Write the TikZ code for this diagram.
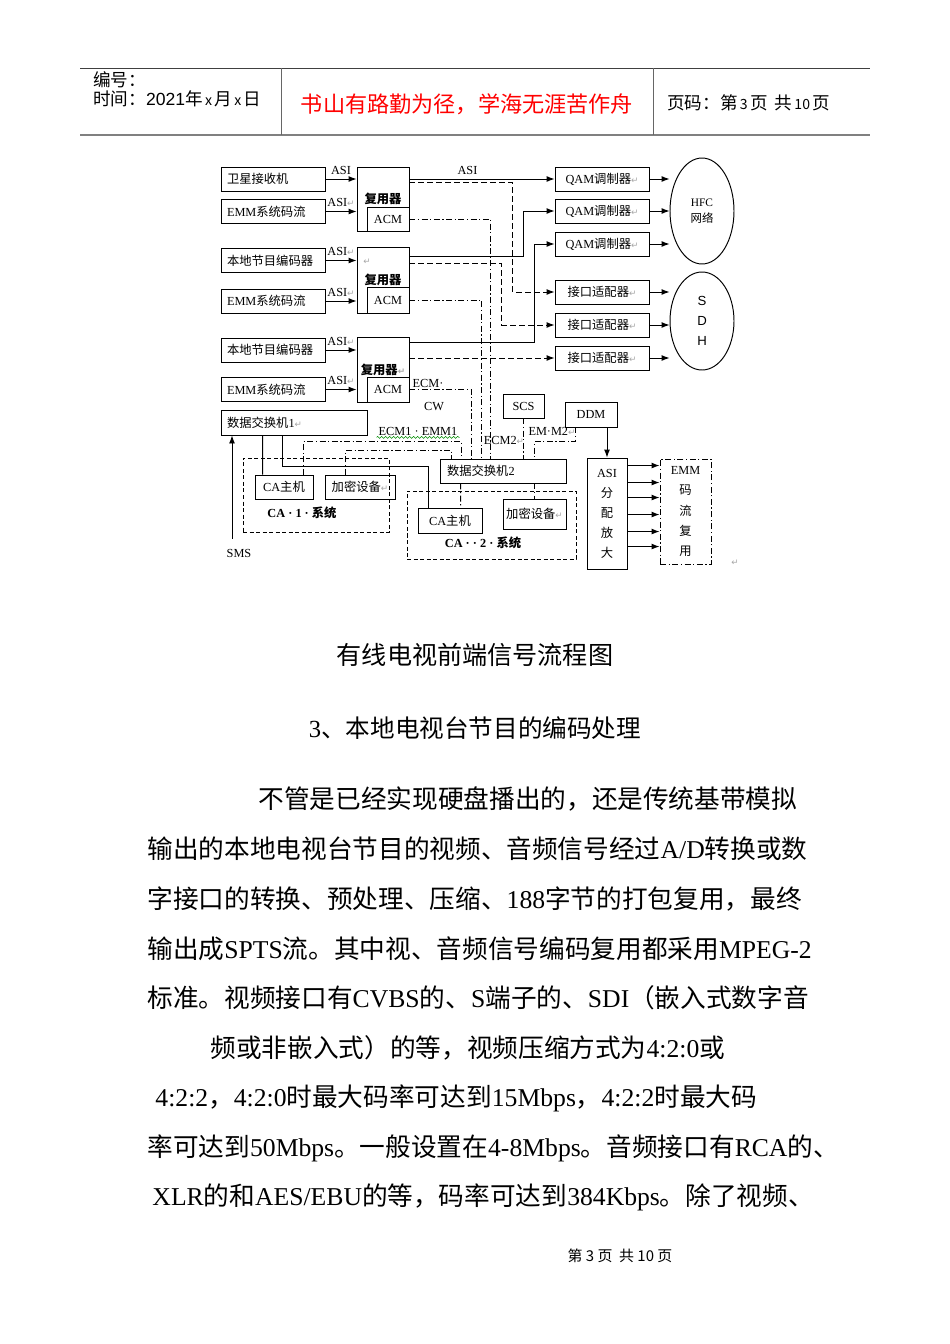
\documentclass[tikz,border=0pt]{standalone}
\usepackage{fontspec}
\setmainfont{Liberation Serif}
\setsansfont{Liberation Sans}
\newfontfamily\cjkfont{Noto Sans CJK SC}
\newfontfamily\symfont{DejaVu Sans}
\usetikzlibrary{arrows.meta,positioning,calc,shapes.geometric,decorations.pathmorphing}

% switch to the CJK family for Chinese runs
\def\latinfont{\rmfamily}
\XeTeXinterchartokenstate=1
\newXeTeXintercharclass\cjkclass
\newcount\cjkcnt
\def\setcjkrange#1#2{\cjkcnt=#1\relax
  \loop\XeTeXcharclass\cjkcnt=\cjkclass
  \ifnum\cjkcnt<#2\relax\advance\cjkcnt by 1\repeat}
\setcjkrange{"3000}{"303F}
\setcjkrange{"4E00}{"9FFF}
\setcjkrange{"FF00}{"FFEF}
\XeTeXinterchartoks 0 \cjkclass={\cjkfont}
\XeTeXinterchartoks 4095 \cjkclass={\cjkfont}
\XeTeXinterchartoks \cjkclass 0={\latinfont}

\newcommand{\ret}{\hbox{\color{black!35}\symfont\fontsize{5}{6}\selectfont ↵}}
\newcommand{\smalldigit}[1]{\hbox{\fontsize{8}{9}\selectfont\,#1\,}}

\begin{document}
\begin{tikzpicture}[x=0.2mm, y=-0.2mm, line width=0.55pt,
  font=\fontsize{7}{8.4}\selectfont,
  blk/.style={draw, inner sep=0pt},
  lbox/.style={draw, inner xsep=1.2mm, inner ysep=0pt, align=left, text width=#1, minimum height=4.8mm},
  grp/.style={draw, dash pattern=on 0.8mm off 0.5mm},
  arr/.style={-{Latex[length=1.6mm,width=1.2mm]}},
  tsdash/.style={dash pattern=on 1.1mm off 0.7mm},
  ctl/.style={dash pattern=on 1.2mm off 0.5mm on 0.25mm off 0.5mm},
  hfont/.style={font={\def\latinfont{\sffamily}\sffamily\fontsize{10}{12}\selectfont}},
  body/.style={anchor=west, inner sep=0pt, font=\fontsize{14.6}{18}\selectfont}]
  \useasboundingbox (0,0) rectangle (950,1344);

  % page header
  \draw[black!75] (80,68) -- (870,68);
  \draw[black!50, line width=1.3pt] (80,135) -- (870,135);
  \draw[black!60] (281,68) -- (281,135) (653,68) -- (653,135);
  \node[anchor=west, hfont] (num) at (87,80) {编号：};
  \node[anchor=west, hfont] (date) at (87,99) {时间：2021年\smalldigit{x}月\smalldigit{x}日};
  \node[red, font=\fontsize{12.6}{14}\selectfont] (motto) at (467,104) {书山有路勤为径，学海无涯苦作舟};
  \node[anchor=west, hfont] (page) at (661,103) {页码：第\smalldigit{3}页 \,共\smalldigit{10}页};

  % sources
  \node[lbox=18.4mm] (sat) at (273,179) {卫星接收机};
  \node[lbox=18.4mm] (emm1) at (273,211.5) {EMM系统码流};
  \node[lbox=18.4mm] (enc2) at (273,260.5) {本地节目编码器};
  \node[lbox=18.4mm] (emm2) at (273,301) {EMM系统码流};
  \node[lbox=18.4mm] (enc3) at (273,350) {本地节目编码器};
  \node[lbox=18.4mm] (emm3) at (273,389.5) {EMM系统码流};
  \node[lbox=26.8mm, minimum height=5mm] (sw1) at (294,422.5) {数据交换机1\ret};

  % multiplexers
  \node[blk, minimum width=10.4mm, minimum height=12.8mm, font=\bfseries\fontsize{7}{8}\selectfont] (mux1) at (383,199) {复用器};
  \node[blk, minimum width=10.4mm, minimum height=13.2mm, font=\bfseries\fontsize{7}{8}\selectfont] (mux2) at (383,280) {复用器};
  \node[blk, minimum width=10.4mm, minimum height=13mm, font=\bfseries\fontsize{7}{8}\selectfont] (mux3) at (383,369.5) {复用器\ret};
  \node (mark2) at (367,262) {\ret};
  \node[blk, minimum width=8.4mm, minimum height=4.8mm] (acm1) at (388,219) {ACM};
  \node[blk, minimum width=8.4mm, minimum height=5.2mm] (acm2) at (388,300) {ACM};
  \node[blk, minimum width=8.4mm, minimum height=5mm] (acm3) at (388,389.5) {ACM};

  % modulators and adapters
  \node[blk, minimum width=18.8mm, minimum height=4.8mm] (qam1) at (602,179) {QAM调制器\ret};
  \node[blk, minimum width=18.8mm, minimum height=4.8mm] (qam2) at (602,211) {QAM调制器\ret};
  \node[blk, minimum width=18.8mm, minimum height=4.8mm] (qam3) at (602,244) {QAM调制器\ret};
  \node[blk, minimum width=18.8mm, minimum height=4.8mm] (adp1) at (602,292) {接口适配器\ret};
  \node[blk, minimum width=18.8mm, minimum height=4.8mm] (adp2) at (602,325) {接口适配器\ret};
  \node[blk, minimum width=18.8mm, minimum height=4.8mm] (adp3) at (602,358) {接口适配器\ret};
  \node[draw, ellipse, inner sep=0pt, minimum width=12.8mm, minimum height=21.2mm, align=center, font=\fontsize{6.5}{9}\selectfont] (hfc) at (702,211) {HFC\\网络};
  \node[draw, ellipse, inner sep=0pt, minimum width=12.8mm, minimum height=19.6mm, align=center, font=\sffamily\fontsize{7.5}{11.4}\selectfont] (sdh) at (702,321) {S\\D\\H};

  % CA side
  \node[blk, minimum width=8.2mm, minimum height=4.8mm] (scs) at (523.5,406) {SCS};
  \node[blk, minimum width=10.4mm, minimum height=5mm] (ddm) at (591,414.5) {DDM};
  \node[lbox=22.4mm, inner xsep=1.4mm] (sw2) at (503,471) {数据交换机2};
  \node[grp, minimum width=29.2mm, minimum height=14.8mm] (ca1) at (316,495) {};
  \node[blk, minimum width=11.6mm, minimum height=4.8mm] (cahost1) at (284,487) {CA主机};
  \node[blk, minimum width=14mm, minimum height=4.8mm] (crypt1) at (360,487) {加密设备\ret};
  \node[font=\bfseries\fontsize{7}{8}\selectfont] (ca1name) at (302,513) {CA · 1 · 系统};
  \node[grp, minimum width=33.8mm, minimum height=13.6mm] (ca2) at (491.5,525) {};
  \node[blk, minimum width=12.8mm, minimum height=5mm] (cahost2) at (450,520.5) {CA主机};
  \node[blk, minimum width=12.6mm, minimum height=6mm] (crypt2) at (534.5,514) {加密设备\ret};
  \node[font=\bfseries\fontsize{7}{8}\selectfont] (ca2name) at (483,543) {CA · · 2 · 系统};
  \node[blk, minimum width=8mm, minimum height=22.2mm, align=center, font=\fontsize{7}{11.4}\selectfont] (asi) at (607,513.5) {ASI\\分\\配\\放\\大};
  \node[draw, ctl, inner sep=0pt, minimum width=10.2mm, minimum height=21mm, align=center, font=\fontsize{7}{11.4}\selectfont] (emmmux) at (685.5,511.5) {EMM\\码\\流\\复\\用};
  \node (sms) at (239,553) {SMS};
  \node (endmark) at (735,563) {\ret};

  % inputs
  \draw[arr] (sat.east) -- (sat.east -| mux1.west) node[midway, above=-1pt] {ASI};
  \draw[arr] (emm1.east) -- (emm1.east -| mux1.west) node[midway, above=-1pt] {ASI\ret};
  \draw[arr] (enc2.east) -- (enc2.east -| mux2.west) node[midway, above=-1pt] {ASI\ret};
  \draw[arr] (emm2.east) -- (emm2.east -| mux2.west) node[midway, above=-1pt] {ASI\ret};
  \draw[arr] (enc3.east) -- (enc3.east -| mux3.west) node[midway, above=-1pt] {ASI\ret};
  \draw[arr] (emm3.east) -- (emm3.east -| mux3.west) node[midway, above=-1pt] {ASI\ret};

  % transport streams
  \draw[arr] (qam1 -| mux1.east) -- (qam1.west) node[pos=0.4, above=-1pt] {ASI};
  \draw[tsdash, arr] ($(mux1.north east)+(0,16)$) -| ($(adp1.west)+(-42,0)$) -- (adp1.west);
  \draw[arr] ($(mux2.north east)+(0,10)$) -| ($(qam2.west)+(-31,0)$) -- (qam2.west);
  \draw[tsdash, arr] ($(mux2.north east)+(0,17)$) -| ($(adp2.west)+(-53,0)$) -- (adp2.west);
  \draw[arr] ($(mux3.north east)+(0,6)$) -| ($(qam3.west)+(-20,0)$) -- (qam3.west);
  \draw[tsdash, arr] (adp3 -| mux3.east) -- (adp3.west);
  \draw[arr] (qam1.east) -- (qam1.east -| hfc.west);
  \draw[arr] (qam2.east) -- (qam2.east -| hfc.west);
  \draw[arr] (qam3.east) -- (qam3.east -| hfc.west);
  \draw[arr] (adp1.east) -- (adp1.east -| sdh.west);
  \draw[arr] (adp2.east) -- (adp2.east -| sdh.west);
  \draw[arr] (adp3.east) -- (adp3.east -| sdh.west);

  % control links into switch 2
  \coordinate (t1) at ($(sw2.north west)+(12,0)$);
  \coordinate (t2) at ($(sw2.north west)+(22,0)$);
  \coordinate (t3) at ($(sw2.north west)+(32,0)$);
  \coordinate (t4) at ($(sw2.north west)+(42,0)$);
  \coordinate (t5) at ($(sw2.north west)+(51,0)$);
  \coordinate (t6) at ($(sw2.north west)+(95,0)$);
  \draw[ctl] (acm1.east) -| (t5);
  \draw[ctl] (acm2.east) -| (t4);
  \draw[ctl] (acm3.east) -| (t3);
  \draw[ctl] ($(cahost1.north west)+(49,0)$) |- ($(t2)+(0,-17)$) -- (t2);
  \draw[ctl] ($(crypt1.north west)+(21,0)$) |- ($(t1)+(0,-8)$) -- (t1);
  \draw[ctl] (scs) -- (scs |- sw2.north);
  \draw[ctl] ($(ddm.south west)+(11,0)$) |- ($(t6)+(0,-17)$) -- (t6);
  \draw[ctl] ($(sw2.south west)+(21,0)$) -- ($(cahost2.north west)+(43,0)$);
  \draw[ctl] (crypt2.north |- sw2.south) -- (crypt2.north);
  \node (ecm) at (428,383) {ECM·};
  \node (cw) at (434,407) {CW};
  \node[inner sep=1pt] (ecmemm) at (418,431) {ECM1 · EMM1};
  \draw[green!55!black, line width=0.3pt, decorate, decoration={snake, amplitude=0.2mm, segment length=0.8mm}] (ecmemm.south west) -- (ecmemm.south east);
  \node (ecm2) at (504,440) {ECM2\ret};
  \node (emm2lbl) at (552,431) {EM·M2\ret};

  % switch 1 and distribution
  \draw ($(sw1.south west)+(42,0)$) -- ($(cahost1.north west)+(8,0)$);
  \draw ($(sw1.south west)+(62,0)$) |- ($(cahost2.north west)+(11,-41)$) -- ($(cahost2.north west)+(11,0)$);
  \coordinate (smsin) at ($(sms.north)+(-7,-4)$);
  \draw[arr] (smsin) -- (smsin |- sw1.south);
  \draw[arr] (asi.north |- ddm.south) -- (asi.north);
  \draw[arr] ($(asi.north east)+(0,8)$) coordinate (o1) -- (o1 -| emmmux.west);
  \draw[arr] ($(asi.north east)+(0,25)$) coordinate (o2) -- (o2 -| emmmux.west);
  \draw[arr] ($(asi.north east)+(0,40)$) coordinate (o3) -- (o3 -| emmmux.west);
  \draw[arr] ($(asi.north east)+(0,57)$) coordinate (o4) -- (o4 -| emmmux.west);
  \draw[arr] ($(asi.north east)+(0,74)$) coordinate (o5) -- (o5 -| emmmux.west);
  \draw[arr] ($(asi.north east)+(0,89)$) coordinate (o6) -- (o6 -| emmmux.west);

  % text below the figure
  \node[font=\fontsize{14.3}{16}\selectfont] (caption) at (475,655) {有线电视前端信号流程图};
  \node[font=\fontsize{14}{16}\selectfont] (section) at (475,728) {3、本地电视台节目的编码处理};
  \node[body] (l1) at (258,799) {不管是已经实现硬盘播出的，还是传统基带模拟};
  \node[body] (l2) at (147,849) {输出的本地电视台节目的视频、音频信号经过A/D转换或数};
  \node[body] (l3) at (147,899) {字接口的转换、预处理、压缩、188字节的打包复用，最终};
  \node[body] (l4) at (147,949) {输出成SPTS流。其中视、音频信号编码复用都采用MPEG-2};
  \node[body] (l5) at (147,998) {标准。视频接口有CVBS的、S端子的、SDI（嵌入式数字音};
  \node[body] (l6) at (210,1048) {频或非嵌入式）的等，视频压缩方式为4:2:0或};
  \node[body] (l7) at (155,1098) {4:2:2，4:2:0时最大码率可达到15Mbps，4:2:2时最大码};
  \node[body] (l8) at (147,1148) {率可达到50Mbps。一般设置在4-8Mbps。音频接口有RCA的、};
  \node[body] (l9) at (152,1197) {XLR的和AES/EBU的等，码率可达到384Kbps。除了视频、};
  \node[font=\fontsize{8.5}{10}\selectfont] (footer) at (620,1256) {第 3 页 \ 共 10 页};
\end{tikzpicture}
\end{document}
